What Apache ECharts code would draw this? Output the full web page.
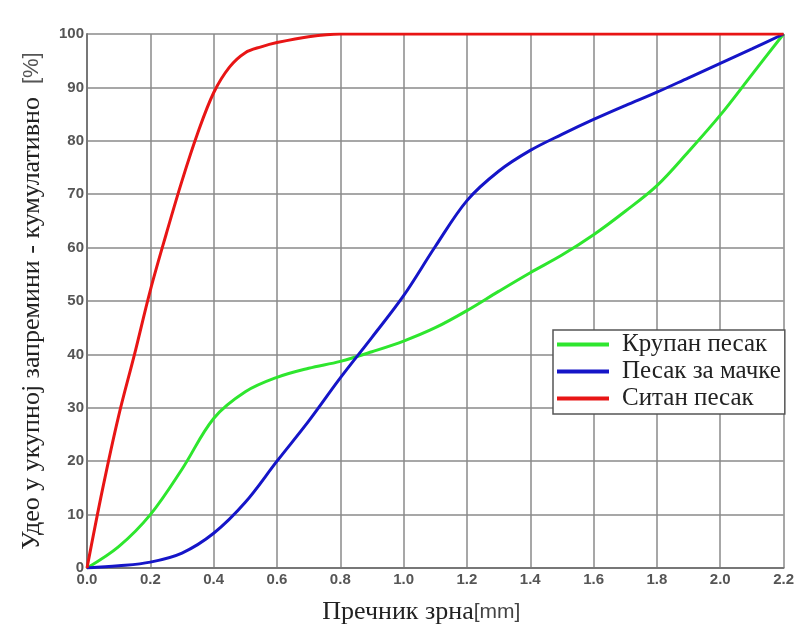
<!DOCTYPE html>
<html>
<head>
<meta charset="utf-8">
<script src="https://cdn.jsdelivr.net/npm/echarts@6/dist/echarts.min.js"></script>
<style>
  html, body { margin: 0; padding: 0; background: #fff; }
  #chart { width: 797px; height: 630px; }
</style>
</head>
<body>
<div id="chart"></div>
<script>
// Grain diameter (mm) and cumulative volume share (%) for each sand type
const seriesNames = ['Крупан песак', 'Песак за мачке', 'Ситан песак'];
const seriesColors = ['#2ee62e', '#1515c8', '#e81515'];

const coarseX = [0, 0.1, 0.2, 0.3, 0.4, 0.5, 0.6, 0.7, 0.8, 0.9, 1.0, 1.1, 1.2, 1.3, 1.4, 1.5, 1.6, 1.7, 1.8, 1.9, 2.0, 2.1, 2.2];
const coarseY = [0, 4, 10, 18.5, 28, 33, 35.7, 37.4, 38.7, 40.5, 42.5, 45, 48.2, 51.8, 55.3, 58.6, 62.4, 66.8, 71.6, 78, 84.8, 92.4, 100];

const catX = [0, 0.1, 0.2, 0.3, 0.4, 0.5, 0.6, 0.7, 0.8, 0.9, 1.0, 1.1, 1.2, 1.3, 1.4, 1.5, 1.6, 1.7, 1.8, 1.9, 2.0, 2.1, 2.2];
const catY = [0, 0.4, 1.1, 2.8, 6.5, 12.3, 20, 27.5, 35.6, 43.2, 51, 60.2, 68.8, 74.3, 78.2, 81.2, 84, 86.6, 89.1, 91.8, 94.5, 97.2, 100];

const fineX = [0, 0.05, 0.1, 0.15, 0.2, 0.25, 0.3, 0.35, 0.4, 0.45, 0.5, 0.55, 0.6, 0.7, 0.8, 1.0, 1.5, 2.0, 2.2];
const fineY = [0, 15, 28.5, 40, 52, 62.5, 72.5, 81.5, 89, 93.8, 96.5, 97.6, 98.4, 99.5, 100, 100, 100, 100, 100];

const xTicks = [0, 0.2, 0.4, 0.6, 0.8, 1.0, 1.2, 1.4, 1.6, 1.8, 2.0, 2.2];
const yTicks = [0, 10, 20, 30, 40, 50, 60, 70, 80, 90, 100];

function pairs(xs, ys) { return xs.map((x, i) => [x, ys[i]]); }

const chart = echarts.init(document.getElementById('chart'), null, { renderer: 'canvas' });

const tickLabel = { fontFamily: 'Liberation Sans', fontWeight: 'bold', fontSize: 15, color: '#555' };

chart.setOption({
  backgroundColor: '#fff',
  animation: false,
  grid: { left: 87, right: 12, top: 34, bottom: 58, containLabel: false },
  xAxis: {
    type: 'value',
    min: 0, max: 2.2, interval: 0.2,
    name: 'Пречник зрна{u|[mm]}',
    nameLocation: 'middle',
    nameGap: 31,
    nameTextStyle: {
      fontFamily: 'Liberation Serif', fontSize: 26, color: '#222',
      padding: [0, 28, 0, 0],
      rich: { u: { fontFamily: 'Liberation Sans', fontSize: 21, color: '#444' } }
    },
    axisLine: { show: true, lineStyle: { color: '#777', width: 2 } },
    axisTick: { show: false },
    splitLine: { show: true, lineStyle: { color: '#8a8a8a', width: 1.5 } },
    axisLabel: Object.assign({ margin: 4, formatter: v => xTicks.includes(Math.round(v * 10) / 10) ? v.toFixed(1) : '' }, tickLabel)
  },
  yAxis: {
    type: 'value',
    min: 0, max: 100, interval: 10,
    name: 'Удео у укупној запремини - кумулативно  {u|[%]}',
    nameLocation: 'middle',
    nameGap: 42,
    nameTextStyle: {
      fontFamily: 'Liberation Serif', fontSize: 26, color: '#222',
      rich: { u: { fontFamily: 'Liberation Sans', fontSize: 22, color: '#555' } }
    },
    axisLine: { show: true, lineStyle: { color: '#777', width: 2 } },
    axisTick: { show: false },
    splitLine: { show: true, lineStyle: { color: '#8a8a8a', width: 1.5 } },
    axisLabel: Object.assign({ margin: 3, formatter: v => yTicks.includes(v) ? String(v) : '' }, tickLabel)
  },
  legend: {
    orient: 'vertical',
    left: 553, top: 330,
    backgroundColor: '#fff',
    borderColor: '#555', borderWidth: 1.5,
    padding: [2, 4, 3, 4],
    itemGap: 2,
    itemWidth: 52, itemHeight: 4,
    icon: 'rect',
    textStyle: { fontFamily: 'Liberation Serif', fontSize: 25, lineHeight: 22, color: '#222', padding: [0, 0, 0, 8] },
    data: seriesNames
  },
  series: [
    { name: seriesNames[0], data: pairs(coarseX, coarseY), color: seriesColors[0] },
    { name: seriesNames[1], data: pairs(catX, catY), color: seriesColors[1] },
    { name: seriesNames[2], data: pairs(fineX, fineY), color: seriesColors[2] }
  ].map(s => Object.assign({
    type: 'line',
    smooth: 0.35,
    showSymbol: false,
    lineStyle: { width: 3, color: s.color },
    itemStyle: { color: s.color }
  }, s))
});
</script>
</body>
</html>
